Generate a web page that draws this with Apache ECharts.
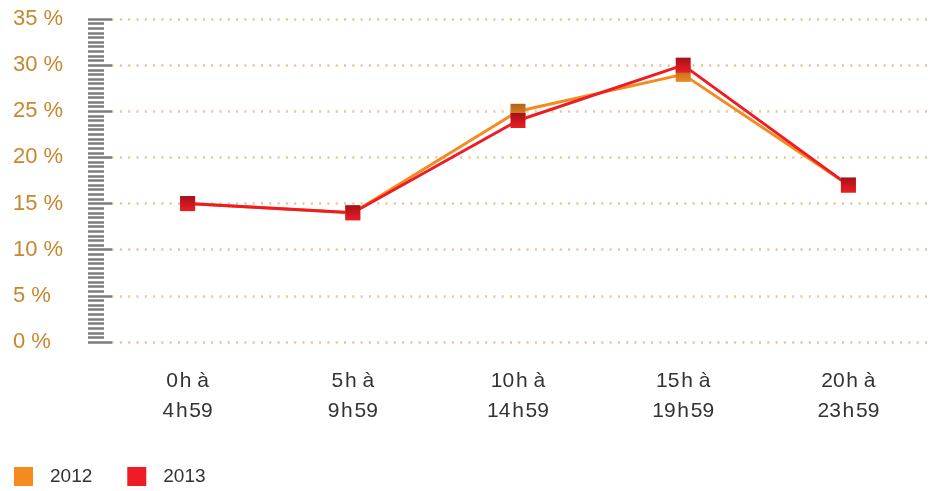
<!DOCTYPE html>
<html>
<head>
<meta charset="utf-8">
<script src="https://cdn.jsdelivr.net/npm/echarts@6/dist/echarts.min.js"></script>
<style>
  html, body { margin: 0; padding: 0; background: #fff; }
  #chart { width: 935px; height: 491px; }
</style>
</head>
<body>
<div id="chart"></div>
<script>
var categories = ['0\u200Ah à\n4\u200Ah\u200A59', '5\u200Ah à\n9\u200Ah\u200A59', '10\u200Ah à\n14\u200Ah\u200A59', '15\u200Ah à\n19\u200Ah\u200A59', '20\u200Ah à\n23\u200Ah\u200A59'];
var data2012 = [15, 14, 25, 29, 17];
var data2013 = [15, 14, 24, 30, 17];
var yTicks = { min: 0, max: 35, step: 5 };

var chart = echarts.init(document.getElementById('chart'));

function grad(top, bottom) {
    return new echarts.graphic.LinearGradient(0, 0, 0, 1, [
        { offset: 0, color: top },
        { offset: 1, color: bottom }
    ]);
}

var option = {
    animation: false,
    backgroundColor: '#fff',
    grid: { left: 105, right: 4, top: 19, bottom: 149 },
    legend: {
        left: 14,
        top: 467,
        padding: 0,
        itemWidth: 19,
        itemHeight: 19,
        itemGap: 35,
        icon: 'rect',
        textStyle: { fontFamily: 'Liberation Sans', fontSize: 19, color: '#333', padding: [0, 0, 0, 12] },
        data: [
            { name: '2012', itemStyle: { color: '#f58a1f' } },
            { name: '2013', itemStyle: { color: '#ee1c25' } }
        ]
    },
    xAxis: {
        type: 'category',
        data: categories,
        axisLine: { show: false },
        axisTick: { show: false },
        axisLabel: {
            margin: 24,
            fontFamily: 'Liberation Sans',
            fontSize: 21,
            lineHeight: 30,
            color: '#333'
        }
    },
    yAxis: {
        type: 'value',
        min: yTicks.min,
        max: yTicks.max,
        interval: yTicks.step,
        offset: 17,
        axisLine: { show: false },
        axisTick: { show: true, inside: true, length: 24, lineStyle: { color: '#7d7d7d', width: 2.5 } },
        minorTick: { show: true, splitNumber: 10, length: 16, lineStyle: { color: '#7d7d7d', width: 2.5 } },
        axisLabel: {
            margin: 75,
            align: 'left',
            fontFamily: 'Liberation Sans',
            fontSize: 22,
            color: '#c8862e',
            formatter: '{value} %'
        },
        splitLine: {
            show: true,
            lineStyle: { color: '#e6c594', width: 2.5, type: [2, 6.3], dashOffset: 1.7 }
        }
    },
    series: [
        {
            name: '2012',
            type: 'line',
            data: data2012,
            symbol: 'rect',
            symbolSize: 15,
            lineStyle: { color: '#f58a1f', width: 3 },
            itemStyle: { color: grad('#b0621c', '#f08a1f') }
        },
        {
            name: '2013',
            type: 'line',
            data: data2013,
            symbol: 'rect',
            symbolSize: 15,
            lineStyle: { color: '#ee1c25', width: 3 },
            itemStyle: { color: grad('#a2121b', '#ee1c25') }
        }
    ]
};

chart.setOption(option);
</script>
</body>
</html>
